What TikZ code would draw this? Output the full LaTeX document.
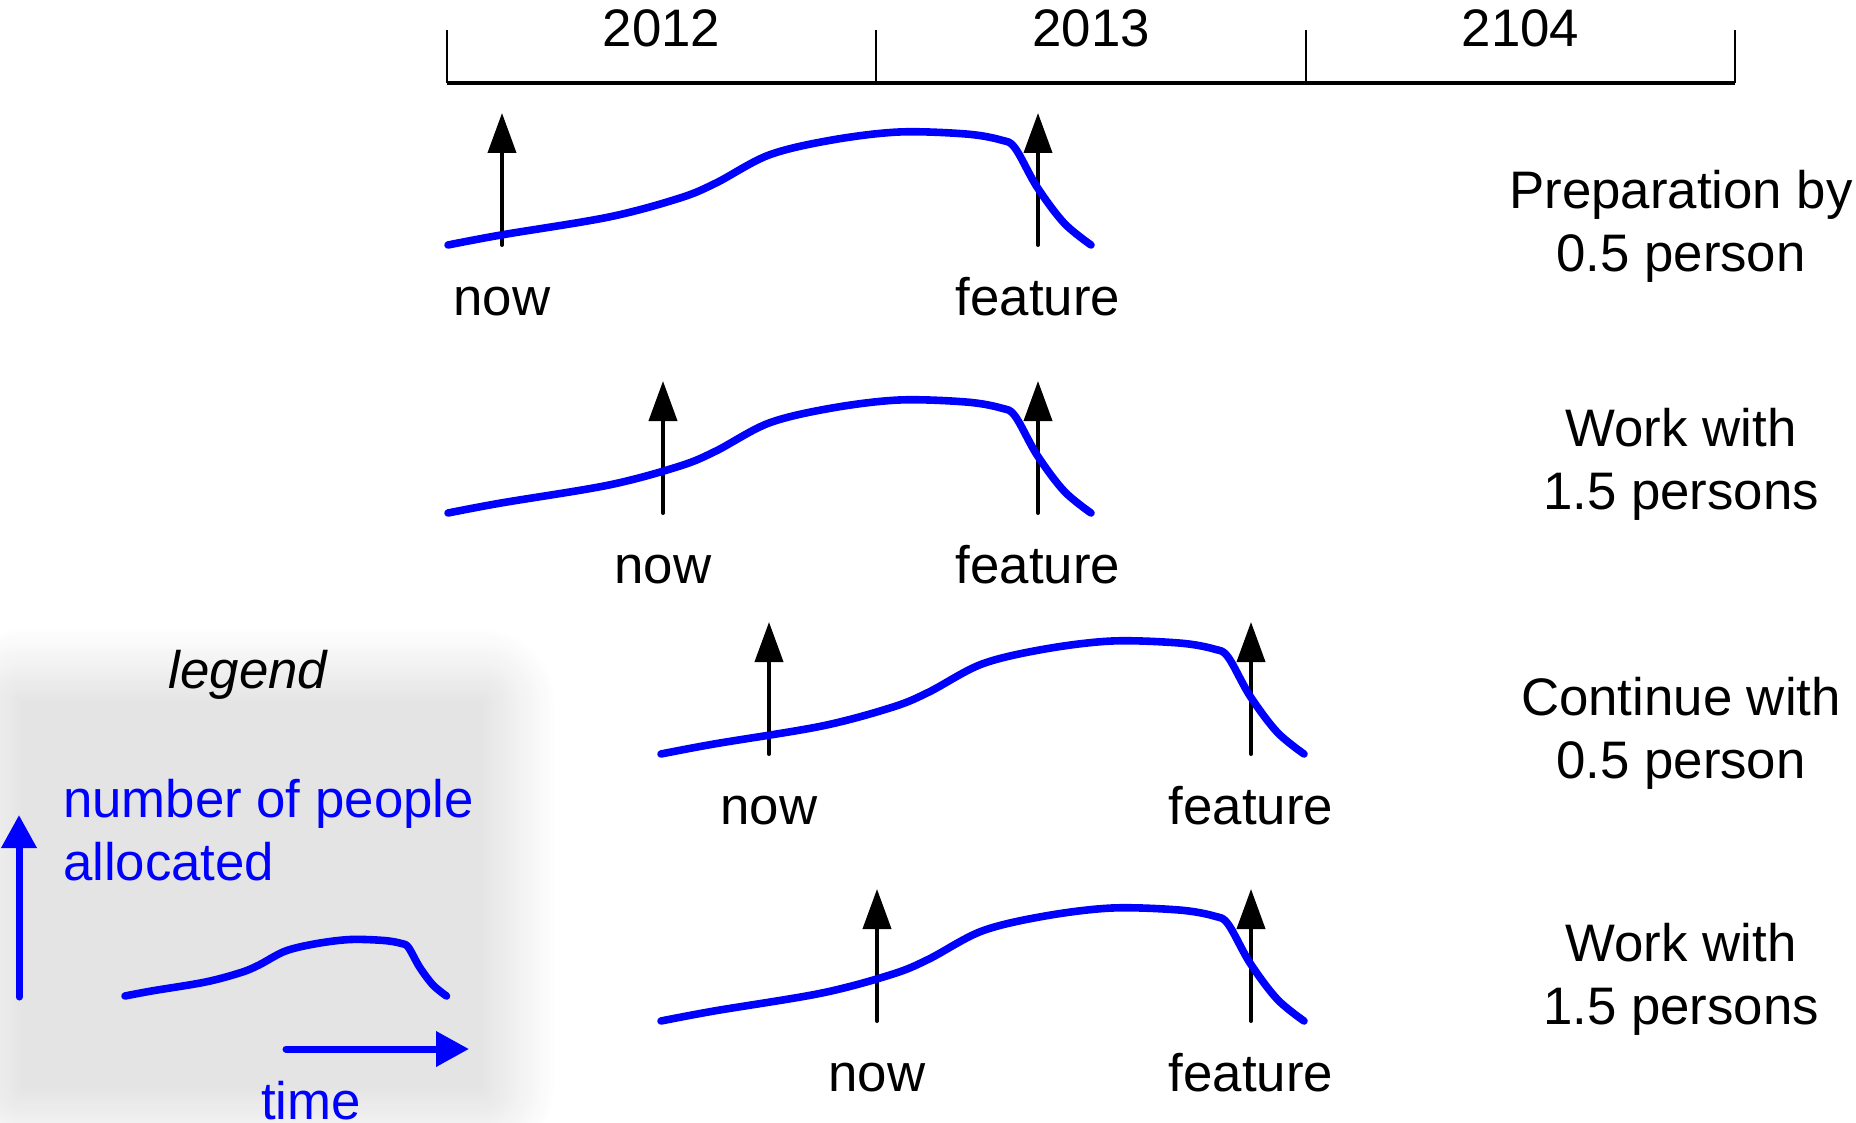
\documentclass[tikz,border=0pt]{standalone}
\usepackage{fontspec}
\setmainfont{Liberation Sans}
\usetikzlibrary{arrows.meta}
\definecolor{pblue}{RGB}{0,0,255}
\begin{document}
\begin{tikzpicture}[x=0.5pt,y=-0.5pt,
  every node/.style={font=\fontsize{26.4}{31.5}\selectfont, inner sep=0pt, outer sep=0pt},
  effort/.style={draw=pblue, line width=3.8pt, line cap=round, line join=round},
  marker/.style={draw=black, line width=2pt, line cap=round, -{Triangle[length=20pt,width=14pt]}},
  legarrow/.style={draw=pblue, line width=3.5pt, line cap=round, -{Triangle[length=16.5pt,width=17pt]}},
  rowtext/.style={align=center, anchor=base},
  lbl/.style={anchor=base},
  axisline/.style={line width=1.6pt},
  tickline/.style={line width=1.1pt},
  effortcurve/.pic={\draw[effort] plot[smooth,tension=0.55] coordinates {(0,0) (53,-10) (161,-28) (232,-47) (268,-62) (321,-90) (384,-105) (451,-113) (518,-111) (553,-105) (567,-97) (589,-58) (616,-22) (643,0)};}
]
\useasboundingbox (0,0) rectangle (1856,1123);

% legend background (soft shadow)
\foreach \i in {0,...,29}{
  \pgfmathsetmacro\d{(29-\i)*2.5}
  \pgfmathsetmacro\g{10.5*(\i+1)/30}
  \pgfmathsetmacro\r{\d*0.5+0.5}
  \fill[black!\g, rounded corners=\r pt] (22-\d,702-\d) rectangle (482+\d,1088+\d);
}

% time axis
\coordinate (t0) at (447,83);
\coordinate (t1) at (876,83);
\coordinate (t2) at (1306,83);
\coordinate (t3) at (1735,83);
\coordinate (u0) at (447,30);
\coordinate (u1) at (876,30);
\coordinate (u2) at (1306,30);
\coordinate (u3) at (1735,30);
\draw[axisline] (t0) -- (t3);
\draw[tickline] (t0) -- (u0);
\draw[tickline] (t1) -- (u1);
\draw[tickline] (t2) -- (u2);
\draw[tickline] (t3) -- (u3);
\node[lbl] (y2012) at (661.5,47) {2012};
\node[lbl] (y2013) at (1091,47) {2013};
\node[lbl] (y2104) at (1520.5,47) {2104};

% row 1
\coordinate (n1b) at (502,245); \coordinate (n1t) at (502,113);
\coordinate (f1b) at (1038,245); \coordinate (f1t) at (1038,113);
\draw[marker] (n1b) -- (n1t);
\draw[marker] (f1b) -- (f1t);
\pic at (448,245) {effortcurve};
\node[lbl] (now1) at (502,315) {now};
\node[lbl] (feat1) at (1038,315) {feature};
\node[rowtext] (r1) at (1681,271) {Preparation by\\0.5 person};

% row 2
\coordinate (n2b) at (663,513); \coordinate (n2t) at (663,381);
\coordinate (f2b) at (1038,513); \coordinate (f2t) at (1038,381);
\draw[marker] (n2b) -- (n2t);
\draw[marker] (f2b) -- (f2t);
\pic at (448,513) {effortcurve};
\node[lbl] (now2) at (663,583) {now};
\node[lbl] (feat2) at (1038,583) {feature};
\node[rowtext] (r2) at (1681,509) {Work with\\1.5 persons};

% row 3
\coordinate (n3b) at (769,754); \coordinate (n3t) at (769,622);
\coordinate (f3b) at (1251,754); \coordinate (f3t) at (1251,622);
\draw[marker] (n3b) -- (n3t);
\draw[marker] (f3b) -- (f3t);
\pic at (661,754) {effortcurve};
\node[lbl] (now3) at (769,824) {now};
\node[lbl] (feat3) at (1251,824) {feature};
\node[rowtext] (r3) at (1681,778) {Continue with\\0.5 person};

% row 4
\coordinate (n4b) at (877,1021); \coordinate (n4t) at (877,889);
\coordinate (f4b) at (1251,1021); \coordinate (f4t) at (1251,889);
\draw[marker] (n4b) -- (n4t);
\draw[marker] (f4b) -- (f4t);
\pic at (661,1021) {effortcurve};
\node[lbl] (now4) at (877,1091) {now};
\node[lbl] (feat4) at (1251,1091) {feature};
\node[rowtext] (r4) at (1681,1024) {Work with\\1.5 persons};

% legend
\node[lbl, font=\fontsize{26.4}{31.5}\selectfont\itshape] (legtitle) at (248,688) {legend};
\coordinate (pa) at (19,997); \coordinate (pb) at (19,815);
\draw[legarrow] (pa) -- (pb);
\node[anchor=base west, align=left, text=pblue] (people) at (63,880) {number of people\\allocated};
\pic[scale=0.5] at (125,996) {effortcurve};
\coordinate (ta) at (286,1049); \coordinate (tb) at (469,1049);
\draw[legarrow] (ta) -- (tb);
\node[lbl, text=pblue] (time) at (311,1119) {time};
\end{tikzpicture}
\end{document}
